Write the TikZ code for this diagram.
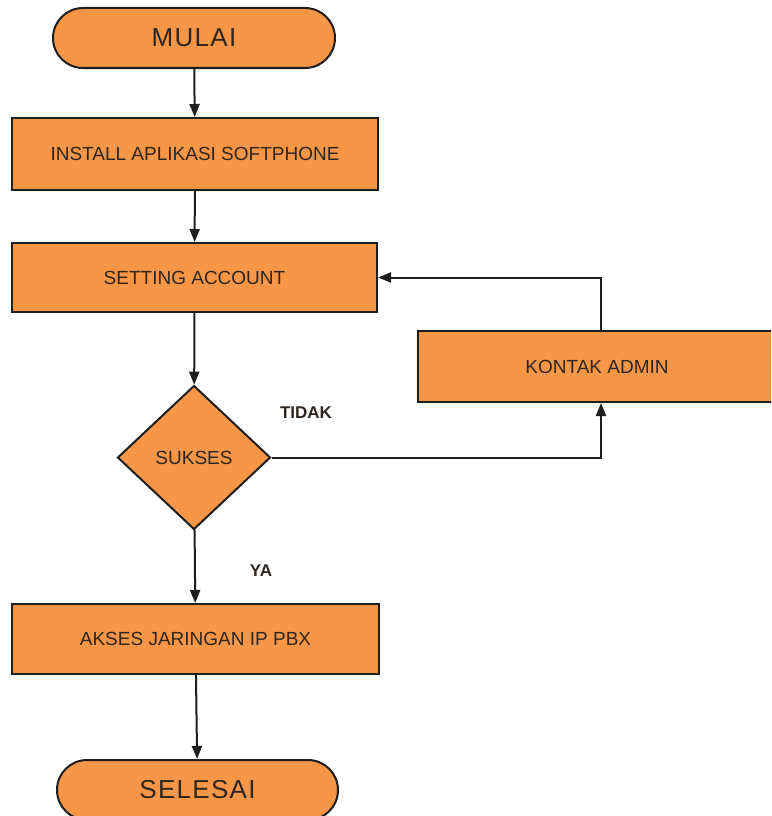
\documentclass[tikz,border=0pt]{standalone}
\usepackage{fontspec}
\setmainfont{Liberation Sans}
\newfontfamily\termfont[LetterSpace=5]{Liberation Sans}
\usetikzlibrary{arrows.meta,shapes.geometric}
\definecolor{boxfill}{HTML}{F79646}
\definecolor{edgecol}{HTML}{1E1E1E}
\definecolor{txtcol}{HTML}{2E2620}
\begin{document}
\begin{tikzpicture}[x=1pt,y=-1pt,
  box/.style={draw=edgecol, line width=2pt, fill=boxfill, inner sep=0pt, text=txtcol, font=\fontsize{19}{22}\selectfont},
  term/.style={box, rounded corners=30pt, font=\termfont\fontsize{26}{30}\selectfont},
  dec/.style={box, diamond, minimum width=153pt, minimum height=144pt},
  lbl/.style={font=\bfseries\fontsize{17}{20}\selectfont, text=txtcol},
  arr/.style={draw=edgecol, line width=2pt, -{Triangle[length=13pt,width=10pt]}}]
\useasboundingbox (0,0) rectangle (771,816);
\clip (0,0) rectangle (771,816);
\node[term, minimum width=282pt, minimum height=60pt] (mulai) at (194,38) {MULAI};
\node[box, minimum width=366pt, minimum height=72pt] (install) at (195,154) {INSTALL APLIKASI SOFTPHONE};
\node[box, minimum width=365pt, minimum height=69pt] (setting) at (194.5,277.5) {SETTING ACCOUNT};
\node[dec] (sukses) at (194,457.5) {SUKSES};
\node[box, minimum width=358pt, minimum height=71pt] (kontak) at (597,366.5) {KONTAK ADMIN};
\node[box, minimum width=367pt, minimum height=70pt] (akses) at (195.5,639) {AKSES JARINGAN IP PBX};
\node[term, minimum width=281pt, minimum height=60pt] (selesai) at (197.5,790) {SELESAI};
\node[lbl] (tidak) at (306,413) {TIDAK};
\node[lbl] (ya) at (261,571) {YA};
\draw[arr] (mulai) -- (install);
\draw[arr] (install) -- (setting);
\draw[arr] (setting) -- (sukses);
\draw[arr] (sukses) -- (akses);
\draw[arr] (akses) -- (selesai);
\draw[arr] (sukses.east) -| ([xshift=4pt]kontak.south);
\draw[arr] ([xshift=4pt]kontak.north) |- (setting.east);
\end{tikzpicture}
\end{document}
